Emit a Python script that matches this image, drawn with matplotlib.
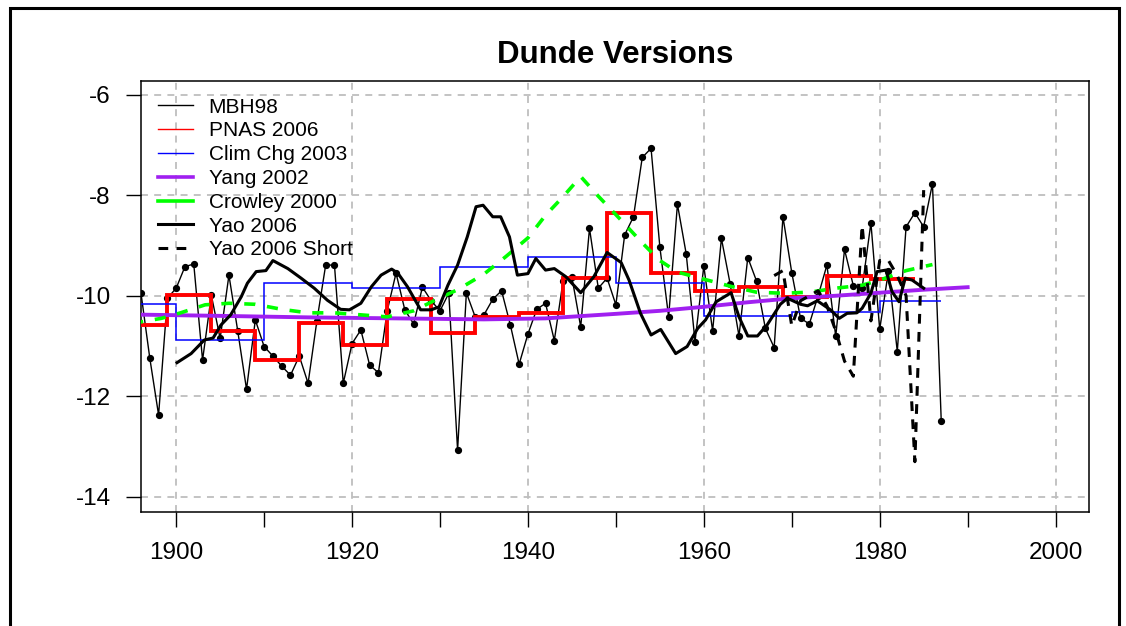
import matplotlib.pyplot as plt
from matplotlib.patches import Rectangle
from matplotlib.ticker import MultipleLocator, NullFormatter

plt.rcParams["font.family"] = ["Liberation Sans", "DejaVu Sans"]
plt.rcParams["lines.scale_dashes"] = False
plt.rcParams["axes.unicode_minus"] = False

# MBH98 annual values, 1896-1987
mbh_years = list(range(1896, 1988))
mbh_vals = [
    -9.95, -11.24, -12.37, -10.05, -9.85, -9.42, -9.37, -11.28, -9.99, -10.85,
    -9.59, -10.70, -11.86, -10.48, -11.01, -11.20, -11.40, -11.58, -11.20, -11.74,
    -10.50, -9.39, -9.39, -11.74, -10.95, -10.68, -11.38, -11.53, -10.30, -9.55,
    -10.28, -10.56, -9.83, -10.10, -10.30, -9.95, -13.07, -9.94, -10.42, -10.38,
    -10.07, -9.90, -10.58, -11.36, -10.76, -10.27, -10.15, -10.89, -9.70, -9.63,
    -10.62, -8.66, -9.85, -9.65, -10.18, -8.79, -8.43, -7.25, -7.07, -9.03,
    -10.42, -8.18, -9.17, -10.91, -9.41, -10.70, -8.86, -9.77, -10.80, -9.24,
    -9.71, -10.65, -11.03, -8.43, -9.54, -10.45, -10.56, -10.00, -9.39, -10.81,
    -9.08, -9.80, -9.85, -8.55, -10.67, -9.50, -11.11, -8.63, -8.35, -8.63,
    -7.77, -12.50,
]

# PNAS 2006: 5-year steps
pnas_edges = [1894, 1899, 1904, 1909, 1914, 1919, 1924, 1929, 1934, 1939,
              1944, 1949, 1954, 1959, 1964, 1969, 1974, 1979, 1984]
pnas_vals = [-10.58, -9.99, -10.70, -11.28, -10.54, -10.97, -10.07, -10.75, -10.42,
             -10.35, -9.65, -8.35, -9.54, -9.90, -9.83, -10.02, -9.61, -9.67]

# Clim Chg 2003: decadal steps
clim_edges = [1890, 1900, 1910, 1920, 1930, 1940, 1950, 1960, 1970, 1980, 1987]
clim_vals = [-10.16, -10.88, -9.75, -9.85, -9.42, -9.22, -9.74, -10.40, -10.33, -10.11]

# Yang 2002
yang_years = [1890, 1905, 1915, 1925, 1935, 1942, 1950, 1955, 1960, 1965, 1970,
              1975, 1980, 1985, 1990]
yang_vals = [-10.36, -10.40, -10.43, -10.45, -10.47, -10.45, -10.36, -10.30, -10.22,
             -10.13, -10.05, -10.00, -9.94, -9.88, -9.83]

# Crowley 2000
crowley_years = [1895, 1898.3, 1900.5, 1903.3, 1906, 1909, 1912, 1915, 1918, 1921,
                 1924, 1927, 1930, 1932, 1935, 1937.5, 1940, 1942, 1944, 1946,
                 1948, 1950.5, 1953, 1955, 1957, 1960, 1963, 1966, 1969, 1972,
                 1975, 1978, 1980, 1983, 1986]
crowley_vals = [-10.55, -10.45, -10.34, -10.18, -10.15, -10.17, -10.27, -10.34, -10.34,
                -10.38, -10.42, -10.30, -10.04, -9.88, -9.57, -9.22, -8.85, -8.40,
                -8.03, -7.63, -8.02, -8.48, -8.95, -9.30, -9.53, -9.67, -9.81, -9.93,
                -9.95, -9.93, -9.85, -9.79, -9.69, -9.50, -9.38]

# Yao 2006 (smoothed)
yao_years = [1900.1, 1901.7, 1903.2, 1904.2, 1905.1, 1906.2, 1907.4, 1908.1, 1909.1,
             1910.2, 1911.0, 1912.7, 1914.2, 1915.7, 1917.2, 1918.7, 1919.7, 1921.0,
             1922.2, 1923.3, 1924.5, 1925.2, 1926.3, 1927.8, 1929.0, 1929.9, 1930.9,
             1932.0, 1933.1, 1934.1, 1934.9, 1936.0, 1936.9, 1937.9, 1938.8, 1940.0,
             1940.9, 1942.0, 1943.0, 1944.3, 1946.0, 1947.5, 1949.0, 1950.6, 1951.5,
             1952.8, 1954.0, 1955.1, 1956.8, 1958.1, 1959.3, 1960.2, 1961.4, 1963.1,
             1964.0, 1965.0, 1966.1, 1967.2, 1968.7, 1969.5, 1971.0, 1971.8, 1972.9,
             1974.4, 1975.4, 1976.3, 1977.4, 1978.0, 1979.0, 1979.7, 1980.7, 1981.4,
             1982.2, 1982.9, 1983.7, 1985.0]
yao_vals = [-11.33, -11.15, -10.88, -10.84, -10.58, -10.38, -10.02, -9.75, -9.52,
            -9.50, -9.30, -9.46, -9.65, -9.85, -10.09, -10.27, -10.28, -10.15,
            -9.82, -9.59, -9.47, -9.55, -9.82, -10.28, -10.28, -10.22, -9.79,
            -9.39, -8.83, -8.23, -8.20, -8.43, -8.43, -8.83, -9.59, -9.56,
            -9.26, -9.49, -9.46, -9.62, -9.94, -9.62, -9.14, -9.34, -9.69,
            -10.35, -10.78, -10.67, -11.15, -11.01, -10.65, -10.48, -10.12, -9.94,
            -10.42, -10.80, -10.80, -10.58, -10.17, -10.05, -10.17, -10.20, -10.10,
            -10.28, -10.45, -10.35, -10.34, -10.25, -9.95, -9.52, -9.49, -9.92,
            -10.12, -9.65, -9.69, -9.85]

# Yao 2006 Short
short_years = [1968, 1969, 1970, 1971, 1972, 1973, 1974, 1975, 1976, 1977, 1978,
               1979, 1980, 1981, 1982, 1983, 1984, 1985]
short_vals = [-9.6, -9.5, -10.6, -10.1, -10.0, -9.9, -10.2, -10.7, -11.3, -11.6, -8.6,
              -10.5, -9.3, -9.3, -9.6, -10.0, -13.3, -7.9]

W, H = 1126, 626
fig = plt.figure(figsize=(W / 100, H / 100), dpi=100)
ax = fig.add_axes([141 / W, 1 - 512 / H, (1089 - 141) / W, (512 - 81) / H])

grid_kw = dict(color="#bebebe", lw=1.3, dashes=(5, 4.5), zorder=0)
for gy in [-6, -8, -10, -12, -14]:
    ax.axhline(gy, **grid_kw)
for gx in [1900, 1920, 1940, 1960, 1980, 2000]:
    ax.axvline(gx, **grid_kw)

ax.plot(mbh_years, mbh_vals, color="black", lw=1.0, marker="o", ms=4.2,
        label="MBH98", zorder=2)
ax.stairs(pnas_vals, pnas_edges, baseline=None, color="red", lw=2.8, zorder=3)
ax.stairs(clim_vals, clim_edges, baseline=None, color="blue", lw=1.1, zorder=3)
ax.plot(yang_years, yang_vals, color="#a020f0", lw=2.8, zorder=3)
ax.plot(crowley_years, crowley_vals, color="#00ff00", lw=2.6, dashes=(8, 8.5),
        zorder=4)
ax.plot(yao_years, yao_vals, color="black", lw=2.2, zorder=5)
ax.plot(short_years, short_vals, color="black", lw=2.2, dashes=(7, 6), zorder=5)

# legend handles (thin red/blue, as in the original)
handles = [
    plt.Line2D([], [], color="black", lw=1.0),
    plt.Line2D([], [], color="red", lw=1.0),
    plt.Line2D([], [], color="blue", lw=1.0),
    plt.Line2D([], [], color="#a020f0", lw=2.6),
    plt.Line2D([], [], color="#00ff00", lw=2.6),
    plt.Line2D([], [], color="black", lw=2.2),
    plt.Line2D([], [], color="black", lw=2.2, dashes=(7, 6)),
]
labels = ["MBH98", "PNAS 2006", "Clim Chg 2003", "Yang 2002", "Crowley 2000",
          "Yao 2006", "Yao 2006 Short"]
leg = ax.legend(handles, labels, loc="upper left", bbox_to_anchor=(0, 1),
                borderaxespad=0, fontsize=15, handlelength=1.68,
                handletextpad=0.77, labelspacing=0.23, borderpad=0.8,
                fancybox=False, framealpha=0, edgecolor="black")
leg.get_frame().set_linewidth(1.1)

ax.set_xlim(1896, 2003.8)
ax.set_ylim(-14.3, -5.73)
ax.xaxis.set_major_locator(MultipleLocator(20))
ax.xaxis.set_minor_locator(MultipleLocator(10))
ax.xaxis.set_minor_formatter(NullFormatter())
ax.set_yticks([-6, -8, -10, -12, -14])
ax.tick_params(which="both", direction="out", length=10.8, width=1.0,
               labelsize=17.5, color="black")
ax.tick_params(axis="x", which="major", pad=11)
ax.tick_params(axis="y", pad=11)
for s in ax.spines.values():
    s.set_linewidth(1.1)

fig.text(615 / W, 1 - 55 / H, "Dunde Versions", ha="center", va="center",
         fontsize=22.5, fontweight="bold")

fig.add_artist(Rectangle((10 / W, -0.1), (1119 - 10) / W, 1.1 - 8 / H,
                         transform=fig.transFigure, fill=False, lw=2.2,
                         edgecolor="black"))

fig.savefig("out.png", dpi=100)
